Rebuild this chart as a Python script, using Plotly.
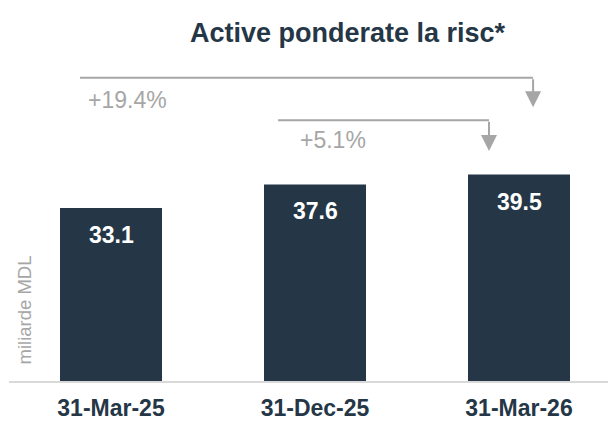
import plotly.graph_objects as go

categories = ["31-Mar-25", "31-Dec-25", "31-Mar-26"]
values = [33.1, 37.6, 39.5]
value_labels = ["33.1", "37.6", "39.5"]

# growth brackets: (from category index, to category index, label)
growth_from = [0, 1]
growth_to = [2, 2]
growth_labels = ["+19.4%", "+5.1%"]

title = "Active ponderate la risc*"
y_title = "miliarde MDL"

NAVY = "#253746"
GRAY = "#a6a6a6"
FONT = "Arial, Liberation Sans, sans-serif"

W, H = 616, 421
OFF = 8  # page body margin offset
# plot area in screen pixels: left 9, bottom 381, top 60
ML = 9 - OFF
MT = 60 - OFF
MB = H - (381 - OFF)
MR = 0
CAT_PX = 204

fig = go.Figure()
fig.add_trace(go.Bar(
    x=list(range(len(categories))), y=values,
    marker=dict(color=NAVY, line=dict(width=0)),
    width=0.5, hoverinfo="skip",
))

# value labels inside the top of each bar
for i, (v, t) in enumerate(zip(values, value_labels)):
    fig.add_annotation(x=i, y=v, xref="x", yref="y", text=f"<b>{t}</b>",
                       showarrow=False, yanchor="middle", yshift=-27,
                       font=dict(family=FONT, size=23, color="white"))

# bracket styles (offsets relative to category centres / top value)
top = max(values)
bracket_level = [top + 18.5, top + 10.4]
tip_level = [top + 12.9, top + 4.5]
start_off = [-0.152, -0.181]
end_off = [0.069, -0.147]
label_off = [-0.1225, -0.083]
label_level = [top + 14.35, top + 6.6]

for k in range(len(growth_labels)):
    x0 = growth_from[k] + start_off[k]
    x1 = growth_to[k] + end_off[k]
    yb = bracket_level[k]
    fig.add_shape(type="line", xref="x", yref="y", x0=x0, x1=x1, y0=yb, y1=yb,
                  line=dict(color=GRAY, width=2))
    fig.add_annotation(x=x1, y=tip_level[k], ax=x1, ay=yb, xref="x", yref="y",
                       axref="x", ayref="y", text="", showarrow=True,
                       arrowhead=2, arrowsize=1.6, arrowwidth=2, arrowcolor=GRAY,
                       standoff=0, startstandoff=0)
    fig.add_annotation(x=growth_from[k] + label_off[k], y=label_level[k],
                       xref="x", yref="y", text=growth_labels[k], showarrow=False,
                       xanchor="left", yanchor="middle",
                       font=dict(family=FONT, size=23, color=GRAY))

# y axis title
fig.add_annotation(xref="paper", yref="paper", x=0, y=0, xshift=24 - 9, yshift=70.5,
                   text=y_title, textangle=-90, showarrow=False,
                   xanchor="center", yanchor="middle",
                   font=dict(family=FONT, size=18.5, color=GRAY))

plot_h = H - MT - MB
plot_w = W - ML - MR
px_per_unit = 173 / 33.1
fig.update_layout(
    width=W, height=H,
    margin=dict(l=ML, r=MR, t=MT, b=MB, pad=0, autoexpand=False),
    paper_bgcolor="white", plot_bgcolor="white",
    showlegend=False,
    title=dict(text=f"<b>{title}</b>", x=(347.5 - OFF) / W, xanchor="center",
               y=1 - (33 - OFF) / H, yanchor="middle",
               font=dict(family=FONT, size=27, color=NAVY)),
    xaxis=dict(range=[-0.5, -0.5 + plot_w / CAT_PX], tickmode="array",
               tickvals=list(range(len(categories))),
               ticktext=[f"<b>{c}</b>" for c in categories],
               showline=True, linecolor="#d9d9d9", linewidth=1.5,
               showgrid=False, zeroline=False, ticks="", automargin=False,
               ticklabelstandoff=6,
               tickfont=dict(family=FONT, size=23, color=NAVY)),
    yaxis=dict(range=[0, plot_h / px_per_unit], visible=False,
               showgrid=False, zeroline=False),
)

fig.write_html("out.html")
